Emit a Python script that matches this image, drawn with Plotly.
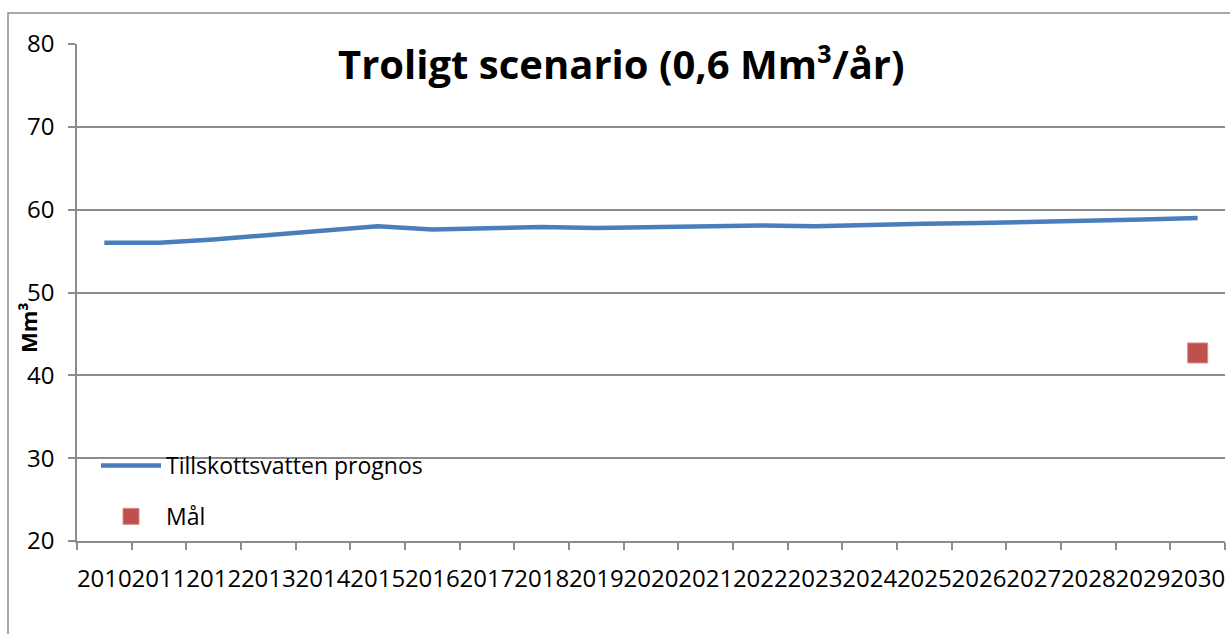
"""
Troligt scenario - tillskottsvatten prognos mot mål
"""

import plotly.graph_objects as go

# Data
years = [str(y) for y in range(2010, 2031)]
prognos = [56.0, 56.0, 56.4, 56.9, 57.4, 58.0, 57.6, 57.7, 57.9, 57.8, 57.9,
           57.9, 58.1, 58.0, 58.2, 58.3, 58.4, 58.5, 58.7, 58.8, 59.0]
mal_years = ['2030']
mal_values = [42.7]
y_ticks = [20, 30, 40, 50, 60, 70, 80]

FONT = "Open Sans"
GRID = '#8c8c8c'

W, H = 1230, 634
L, R, T, B = 77, 5, 44, 93
pw, ph = W - L - R, H - T - B


def px_x(x):
    return (x - L) / pw


def px_y(y):
    return (H - B - y) / ph


fig = go.Figure()

fig.add_trace(go.Scatter(
    x=years, y=prognos, mode='lines', name='Tillskottsvatten prognos',
    legendgroup='a',
    line=dict(color='#4a7ebb', width=4.5),
))
fig.add_trace(go.Scatter(
    x=mal_years, y=mal_values, mode='markers', name='Mål',
    legendgroup='b',
    marker=dict(symbol='square', size=20, color='#c0504d',
                line=dict(color='#d98b89', width=1)),
))

fig.update_layout(
    width=W, height=H,
    margin=dict(l=L, r=R, t=T, b=B),
    paper_bgcolor='white', plot_bgcolor='white',
    font=dict(family=FONT, size=24, color='black'),
    showlegend=True,
    legend=dict(
        x=px_x(96), y=px_y(444), xanchor='left', yanchor='top',
        bgcolor='rgba(0,0,0,0)', font=dict(size=23),
        tracegroupgap=18, itemwidth=60,
    ),
)

fig.update_xaxes(
    type='category', categoryorder='array', categoryarray=years,
    tickmode='array', tickvals=years, ticktext=years, tickangle=0,
    range=[-0.5, len(years) - 0.5],
    showgrid=False, showline=True, linecolor=GRID, linewidth=1.5,
    ticks='outside', ticklen=7, tickcolor=GRID, tickwidth=1.5,
    tickson='boundaries', ticklabelstandoff=15,
    tickfont=dict(size=24),
)
fig.update_yaxes(
    range=[20, 80], tickmode='array', tickvals=y_ticks,
    showgrid=True, gridcolor=GRID, gridwidth=1.5,
    showline=True, linecolor=GRID, linewidth=1.5,
    ticks='outside', ticklen=7, tickcolor=GRID, tickwidth=1.5,
    ticklabelstandoff=9, zeroline=False,
    tickfont=dict(size=24),
)

# Chart title and axis title
fig.add_annotation(
    text='<b>Troligt scenario (0,6 Mm³/år)</b>',
    x=px_x(621), y=px_y(63), xref='paper', yref='paper',
    xanchor='center', yanchor='middle', showarrow=False,
    font=dict(family=FONT, size=40, color='black'),
)
fig.add_annotation(
    text='<b>Mm³</b>',
    x=px_x(28), y=px_y(327), xref='paper', yref='paper',
    xanchor='center', yanchor='middle', showarrow=False, textangle=-90,
    font=dict(family=FONT, size=22, color='black'),
)

# Outer chart frame
fig.add_shape(
    type='rect', xref='paper', yref='paper',
    x0=px_x(8), x1=px_x(1240), y0=px_y(650), y1=px_y(13),
    line=dict(color=GRID, width=1.5), fillcolor='rgba(0,0,0,0)', layer='below',
)

# drop the default body margin so the figure fills the window
fig.write_html('out.html', config={'displayModeBar': False},
               post_script="document.body.style.margin='0px';")
